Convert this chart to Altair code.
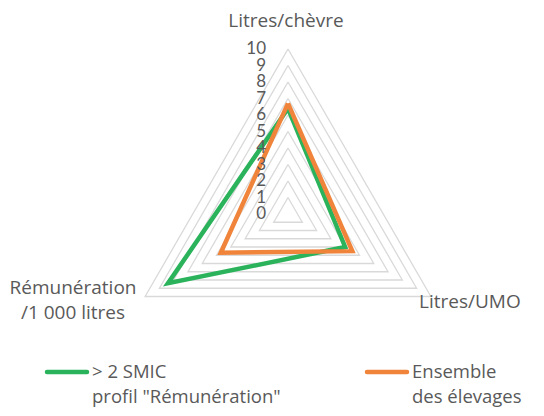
import altair as alt
import pandas as pd

# ---- data ----
axes = ["Litres/chèvre", "Litres/UMO", "Rémunération /1 000 litres"]
angles = [0, 120, 240]
green = [6.4, 4.0, 8.4]
orange = [6.7, 4.5, 4.7]
series = ['> 2 SMIC\nprofil "Rémunération"', "Ensemble\ndes élevages"]
colors = ["#2BB35C", "#F0843A"]
levels = list(range(1, 11))
tick_labels = [str(i) for i in range(0, 11)]
axis_labels = ["Litres/chèvre", "Litres/UMO", "Rémunération\n/1 000 litres"]

# ---- tables ----
def polygon(vals, name):
    rows = []
    for i in range(4):
        k = i % 3
        rows.append({"serie": name, "a": 360 if i == 3 else angles[k], "v": vals[k], "o": i})
    return pd.DataFrame(rows)

df_green = polygon(green, series[0])
df_orange = polygon(orange, series[1])

grid_rows = []
for lv in levels:
    for i in range(4):
        grid_rows.append({"lv": lv, "a": 360 if i == 3 else angles[i % 3], "v": lv, "o": i})
df_grid = pd.DataFrame(grid_rows)

df_ticks = pd.DataFrame({"t": tick_labels, "v": list(range(0, 11))})

U = 16.5
CX, CY = 288, 214
def ux(px):
    return (px - CX) / U
def uy(py):
    return (CY - py) / U

df_axlab = pd.DataFrame({
    "t": axis_labels,
    "x": [ux(286), ux(419), ux(73)],
    "y": [uy(21), uy(302), uy(288)],
    "al": ["center", "left", "center"],
})

df_leg = pd.DataFrame({
    "serie": series,
    "x1": [ux(47), ux(367)],
    "x2": [ux(87), ux(407)],
    "tx": [ux(92), ux(412)],
    "y": [uy(372), uy(372)],
})

FONT = "Open Sans"
W, H = 528, 400
xs = alt.Scale(domain=[ux(8), ux(536)], nice=False, zero=False)
ys = alt.Scale(domain=[uy(408), uy(8)], nice=False, zero=False)
cs = alt.Scale(domain=series, range=colors)

calc = dict(x="datum.v * sin(datum.a * PI / 180)", y="datum.v * cos(datum.a * PI / 180)")

grid = alt.Chart(df_grid).transform_calculate(**calc).mark_line(
    color="#D9D9D9", strokeWidth=1.3, strokeJoin="miter"
).encode(
    x=alt.X("x:Q", scale=xs, axis=None),
    y=alt.Y("y:Q", scale=ys, axis=None),
    detail="lv:N",
    order="o:Q",
)

def serie_layer(df):
    return alt.Chart(df).transform_calculate(**calc).mark_line(
        strokeWidth=4.5, strokeJoin="miter"
    ).encode(
        x=alt.X("x:Q", scale=xs, axis=None),
        y=alt.Y("y:Q", scale=ys, axis=None),
        color=alt.Color("serie:N", scale=cs, legend=None),
        order="o:Q",
    )

ticks = alt.Chart(df_ticks).mark_text(
    align="right", baseline="middle", font="Lato", fontSize=17, color="#595959", dx=-22
).encode(
    x=alt.X("z:Q", scale=xs, axis=None),
    y=alt.Y("v:Q", scale=ys, axis=None),
    text="t:N",
).transform_calculate(z="0")

axlab_c = alt.Chart(df_axlab[df_axlab["al"] == "center"]).mark_text(
    align="center", baseline="middle", font=FONT, fontSize=19, color="#595959", lineBreak="\n", lineHeight=25
).encode(
    x=alt.X("x:Q", scale=xs, axis=None),
    y=alt.Y("y:Q", scale=ys, axis=None),
    text="t:N",
)
axlab_l = alt.Chart(df_axlab[df_axlab["al"] == "left"]).mark_text(
    align="left", baseline="middle", font=FONT, fontSize=19, color="#595959"
).encode(
    x=alt.X("x:Q", scale=xs, axis=None),
    y=alt.Y("y:Q", scale=ys, axis=None),
    text="t:N",
)

leg_sym = alt.Chart(df_leg).mark_rule(strokeWidth=4.5, strokeCap="round").encode(
    x=alt.X("x1:Q", scale=xs, axis=None),
    x2="x2:Q",
    y=alt.Y("y:Q", scale=ys, axis=None),
    color=alt.Color("serie:N", scale=cs, legend=None),
)
leg_txt = alt.Chart(df_leg).mark_text(
    align="left", baseline="middle", font=FONT, fontSize=18.5, color="#595959", lineBreak="\n", lineHeight=25
).encode(
    x=alt.X("tx:Q", scale=xs, axis=None),
    y=alt.Y("y:Q", scale=ys, axis=None),
    text="serie:N",
)

chart = alt.layer(
    grid, serie_layer(df_green), serie_layer(df_orange), ticks, axlab_c, axlab_l, leg_sym, leg_txt
).properties(
    width=W, height=H, padding=0, background="white",
    autosize=alt.AutoSizeParams(type="none")
).configure_view(stroke=None)

chart.save("out.html", embed_options={"renderer": "svg", "actions": False})
